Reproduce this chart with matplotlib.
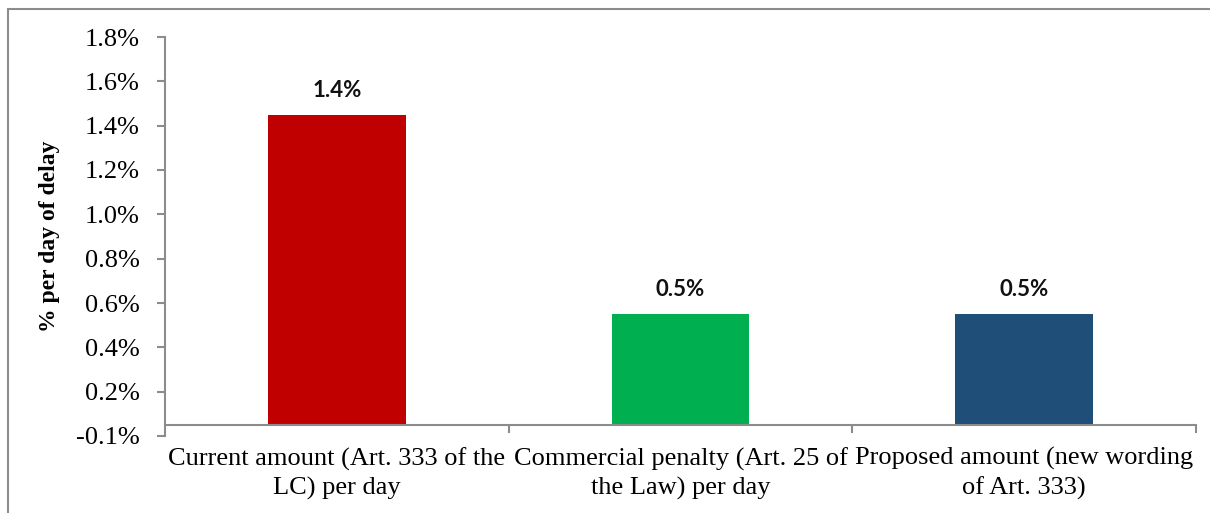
from decimal import Decimal, ROUND_HALF_UP

import matplotlib
matplotlib.use("Agg")
import matplotlib.pyplot as plt
from matplotlib.patches import Rectangle
from matplotlib.ticker import FixedLocator, FuncFormatter

# Penalty per day of delay, in %
categories = [
    "Current amount (Art. 333 of the\nLC) per day",
    "Commercial penalty (Art. 25 of\nthe Law) per day",
    "Proposed amount (new wording\nof Art. 333)",
]
values = [1.4, 0.5, 0.5]
colors = ["#C00000", "#00B050", "#1F4E79"]

# axis settings (min -0.05, step 0.2, labels rounded to one decimal)
y_min, y_max, y_step = -0.05, 1.75, 0.2
y_ticks = [round(y_min + k * y_step, 4) for k in range(10)]

axis_grey = "#8C8C8C"
serif = ["Liberation Serif", "DejaVu Serif"]


def pct_label(v, pos=None):
    d = Decimal(str(round(v, 4))).quantize(Decimal("0.1"), rounding=ROUND_HALF_UP)
    return f"{d}%"


fig = plt.figure(figsize=(12.10, 5.13), dpi=100)
ax = fig.add_axes([165 / 1210, 77 / 513, 1031 / 1210, 399 / 513])

x = list(range(len(categories)))
bars = ax.bar(x, values, width=0.4, color=colors, zorder=2)

for b, v in zip(bars, values):
    ax.annotate(f"{v:.1f}%", (b.get_x() + b.get_width() / 2, v),
                xytext=(0, 10), textcoords="offset points",
                ha="center", va="bottom", fontsize=16, fontweight="bold",
                family=["Lato", "DejaVu Sans"], color="#111111")

ax.set_xlim(-0.5, len(categories) - 0.5)
ax.set_ylim(y_min, y_max)

# y axis
ax.yaxis.set_major_locator(FixedLocator(y_ticks))
ax.yaxis.set_major_formatter(FuncFormatter(pct_label))
ax.tick_params(axis="y", direction="out", length=6, width=1.5,
               color=axis_grey, pad=12, labelsize=19)
for lab in ax.get_yticklabels():
    lab.set_family(serif)

# category axis crosses at zero
ax.spines["bottom"].set_position(("data", 0))
ax.spines["top"].set_visible(False)
ax.spines["right"].set_visible(False)
for s in ("left", "bottom"):
    ax.spines[s].set_color(axis_grey)
    ax.spines[s].set_linewidth(1.5)

ax.set_xticks(x)
ax.set_xticklabels(categories, family=serif, fontsize=19, linespacing=1.35)
ax.set_xticks([i + 0.5 for i in x], minor=True)
ax.tick_params(axis="x", which="major", length=0, pad=16)
ax.tick_params(axis="x", which="minor", direction="out", length=6,
               width=1.5, color=axis_grey)

ax.set_ylabel("% per day of delay", family=serif, fontsize=17,
              fontweight="bold", labelpad=12)

# chart area border
fig.patches.append(Rectangle((8 / 1210, -0.1), 1.2, 0.1 + 504 / 513,
                             transform=fig.transFigure, fill=False,
                             edgecolor=axis_grey, linewidth=1.5))

fig.savefig("out.png", dpi=100)
